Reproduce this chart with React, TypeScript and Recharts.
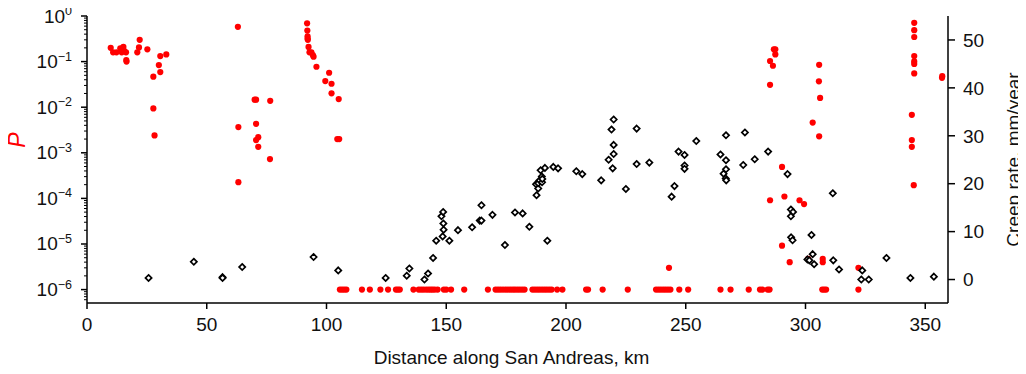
import React from "react";
import { ScatterChart, Scatter, XAxis, YAxis } from "recharts";

// Probability P (left, log axis) vs distance
const redKm = [
  9.9, 10.9, 12.3, 13.9, 14.5, 15.2, 15.6, 16.3, 16.4, 16.5, 21.0, 21.7, 22.0, 25.2, 27.7, 27.7, 28.2, 30.0, 30.6, 30.6, 33.1,
  63.0, 63.2, 63.2, 70.0, 70.6, 70.6, 70.6, 71.5, 71.5, 76.5, 76.4,
  91.9, 92.0, 92.1, 92.1, 92.2, 92.5, 92.9, 93.7, 94.3, 94.6, 95.8, 99.5, 101.1, 102.1, 102.1, 105.1, 104.5, 105.3,
  243.0, 285.2, 285.2, 286.4, 286.8, 287.4, 287.4, 285.2, 290.2, 291.2, 290.2, 293.4, 297.5, 299.4, 301.1,
  303.0, 305.7, 305.6, 306.1, 305.7, 307.2, 307.2, 322.1,
  344.4, 344.4, 344.4, 345.2, 345.4, 345.4, 345.4, 345.4, 345.4, 345.4, 345.4, 357.1, 357.0,
];
const redP = [
  0.2, 0.16, 0.16, 0.195, 0.16, 0.21, 0.17, 0.16, 0.108, 0.1, 0.16, 0.205, 0.3, 0.186, 0.0466, 0.0094, 0.0024, 0.084, 0.059, 0.132, 0.144,
  0.58, 0.00366, 0.000227, 0.0146, 0.0146, 0.00432, 0.0019, 0.0022, 0.00135, 0.0138, 0.00073,
  0.69, 0.48, 0.36, 0.32, 0.3, 0.21, 0.16, 0.16, 0.139, 0.128, 0.077, 0.0374, 0.057, 0.0327, 0.0201, 0.0151, 0.002, 0.002,
  3e-6, 0.103, 0.031, 0.081, 0.186, 0.186, 0.144, 9.1e-5, 4.9e-4, 1.1e-4, 9.2e-6, 4e-6, 9.1e-5, 7.5e-5, 4.7e-6,
  0.0046, 0.085, 0.037, 0.016, 0.0023, 4.7e-6, 4e-6, 3e-6,
  0.0068, 0.0019, 0.00135, 1.95e-4, 0.71, 0.49, 0.346, 0.132, 0.101, 0.089, 0.055, 0.048, 0.044,
];
// Points sitting at the P = 1e-6 floor
const floorKm = [
  105.6, 106.5, 107.4, 108.3, 114.8, 118.1, 122.5, 125.7, 129.0, 129.8, 130.6, 136.3, 138.5, 139.5, 140.5, 141.6,
  142.6, 143.5, 144.3, 145.2, 146.4, 149.0, 150.0, 152.0, 157.5, 167.4, 170.6, 171.6, 172.6, 173.7, 174.8, 175.8,
  176.8, 177.8, 178.7, 179.7, 180.7, 181.7, 182.7, 186.0, 187.0, 188.0, 189.0, 190.0, 191.0, 192.0, 193.0, 194.0,
  196.3, 198.5, 208.4, 209.2, 215.3, 225.8, 237.6, 238.6, 239.6, 240.6, 241.6, 242.6, 243.6, 247.3, 251.0, 264.5,
  268.7, 276.3, 281.0, 282.0, 284.2, 285.0, 307.0, 307.8, 308.6, 322.1,
];
const floorP = 1e-6;

// Creep rate (right axis), mm/year
const creepKm = [
  25.7, 44.6, 56.6, 56.6, 64.8, 94.6, 104.9, 124.7, 133.5, 134.6, 140.9, 142.4, 144.5, 145.8, 148.5, 148.9, 148.8, 148.0,
  148.7, 151.3, 154.9, 160.8, 164.0, 164.7, 164.7, 169.3, 174.5, 178.7, 181.9, 184.7, 187.7, 187.5, 188.4, 188.4, 189.0,
  190.0, 189.4, 189.9, 190.1, 191.2, 192.2, 194.7, 196.7, 204.3, 206.8, 214.7, 217.8, 219.0, 219.9, 219.9, 219.9, 219.5,
  225.0, 229.5, 229.5, 234.8, 244.1, 245.3, 247.0, 249.5, 249.5, 249.5, 254.4, 264.5, 265.8, 266.8, 266.8, 266.8, 266.7,
  266.9, 274.0, 274.7, 278.8, 284.4, 292.5, 293.9, 294.8, 293.9, 294.0, 294.6, 302.5, 303.0, 300.8, 301.6, 303.6, 311.4,
  311.6, 314.0, 323.7, 323.3, 326.4, 333.8, 343.8, 353.6,
];
const creepRate = [
  0.33, 3.7, 0.5, 0.33, 2.6, 4.7, 1.9, 0.33, 0.8, 2.3, 0.0, 1.25, 4.5, 8.1, 9.0, 10.4, 11.7, 13.2,
  14.1, 8.1, 10.3, 10.9, 12.3, 12.3, 15.5, 13.5, 7.2, 14.0, 13.8, 11.0, 17.6, 19.9, 19.0, 20.1, 20.7,
  20.3, 22.8, 21.5, 21.0, 23.3, 8.1, 23.5, 23.2, 22.6, 22.0, 20.7, 25.0, 31.3, 33.4, 28.1, 26.2, 23.2,
  18.9, 31.5, 24.1, 24.4, 17.3, 19.5, 26.7, 26.0, 23.8, 23.1, 28.9, 26.1, 22.1, 30.1, 24.9, 23.0, 21.1,
  20.7, 23.9, 30.7, 25.1, 26.7, 22.0, 14.6, 14.1, 13.2, 8.8, 8.2, 9.3, 5.3, 4.2, 4.0, 3.2, 18.0,
  4.0, 2.1, 1.9, 0.0, 0.0, 4.5, 0.33, 0.6,
];

const xTicks = [0, 50, 100, 150, 200, 250, 300, 350];
const creepTicks = [0, 10, 20, 30, 40, 50];
const decadeExps = [0, -1, -2, -3, -4, -5, -6];
const minorMultipliers = [2, 3, 4, 5, 6, 7, 8, 9];

const pLow = Math.pow(10, -6.294);
const pTicks: number[] = [];
decadeExps.forEach((e) => pTicks.push(Math.pow(10, e)));
[-1, -2, -3, -4, -5, -6, -7].forEach((e) =>
  minorMultipliers.forEach((m) => {
    const v = m * Math.pow(10, e);
    if (v >= pLow && v < 1) pTicks.push(v);
  })
);
pTicks.sort((a, b) => a - b);

const redData = [
  ...redKm.map((x, i) => ({ x, y: redP[i] })),
  ...floorKm.map((x) => ({ x, y: floorP })),
];
const creepData = creepKm.map((x, i) => ({ x, y: creepRate[i] }));

const FONT = "'Liberation Sans', Arial, Helvetica, sans-serif";
const TXT = "#111";

const LeftTick = (props: any) => {
  const { x, y, payload } = props;
  const v = payload.value;
  const e = Math.log10(v);
  const re = Math.round(e);
  const major = Math.abs(e - re) < 1e-6;
  if (!major) {
    return <line x1={x - 3} x2={x} y1={y} y2={y} stroke="#000" strokeWidth={1} />;
  }
  const sup = re === 0 ? "0" : "\u2212" + String(-re);
  return (
    <g>
      <line x1={x - 6} x2={x} y1={y} y2={y} stroke="#000" strokeWidth={1.5} />
      <text x={x - 15} y={y + 6.5} textAnchor="end" fontFamily={FONT} fontSize={19} fill={TXT}>
        <tspan>10</tspan>
        <tspan dy={-7.5} fontSize={12.5}>{sup}</tspan>
      </text>
    </g>
  );
};

const PLabel = (props: any) => {
  const vb = props.viewBox || { x: 8, y: 16, width: 79, height: 287 };
  const cx = vb.x + 9;
  const cy = vb.y + 124;
  return (
    <text
      x={cx}
      y={cy}
      transform={`rotate(-90, ${cx}, ${cy})`}
      textAnchor="middle"
      dominantBaseline="central"
      fontFamily={FONT}
      fontStyle="italic"
      fontSize={23}
      fill="#ff0000"
    >
      P
    </text>
  );
};

const CreepLabel = (props: any) => {
  const vb = props.viewBox || { x: 948, y: 16, width: 78, height: 287 };
  const cx = vb.x + 65;
  const cy = vb.y + vb.height / 2;
  return (
    <text
      x={cx}
      y={cy}
      transform={`rotate(-90, ${cx}, ${cy})`}
      textAnchor="middle"
      dominantBaseline="central"
      fontFamily={FONT}
      fontSize={19}
      fill={TXT}
    >
      Creep rate, mm/year
    </text>
  );
};

const XLabel = (props: any) => {
  const vb = props.viewBox || { x: 87, y: 303, width: 861, height: 71 };
  const cx = vb.x + vb.width / 2 - 6;
  return (
    <text x={cx} y={vb.y + 61} textAnchor="middle" fontFamily={FONT} fontSize={19} fill={TXT}>
      Distance along San Andreas, km
    </text>
  );
};

const RedDot = (props: any) => <circle cx={props.cx} cy={props.cy} r={3.1} fill="#ff0000" />;

const Diamond = (props: any) => {
  const { cx, cy } = props;
  const h = 3.1;
  return (
    <path
      d={`M${cx},${cy - h} L${cx + h},${cy} L${cx},${cy + h} L${cx - h},${cy} Z`}
      fill="#fff"
      stroke="#000"
      strokeWidth={1.7}
    />
  );
};

export default function App() {
  return (
    <div style={{ width: 1026, height: 374, marginLeft: -8, marginTop: -8 }}>
      <ScatterChart width={1026} height={374} margin={{ top: 16, right: 0, bottom: 0, left: 8 }}>
        <XAxis
          dataKey="x"
          type="number"
          domain={[0, 359.5]}
          ticks={xTicks}
          interval={0}
          height={71}
          tickSize={6}
          tickMargin={9}
          axisLine={{ stroke: "#000", strokeWidth: 1.5 }}
          tickLine={{ stroke: "#000", strokeWidth: 1.5 }}
          tick={{ fontFamily: FONT, fontSize: 19, fill: TXT }}
          allowDataOverflow
          label={<XLabel />}
        />
        <YAxis
          yAxisId="left"
          dataKey="y"
          type="number"
          scale="log"
          domain={[pLow, 1]}
          ticks={pTicks}
          interval={0}
          width={79}
          tickSize={0}
          tickMargin={0}
          tickLine={false}
          axisLine={{ stroke: "#000", strokeWidth: 1.5 }}
          tick={<LeftTick />}
          allowDataOverflow
          label={<PLabel />}
        />
        <YAxis
          yAxisId="right"
          orientation="right"
          dataKey="y"
          type="number"
          domain={[-4.9, 55]}
          ticks={creepTicks}
          interval={0}
          width={78}
          tickSize={7}
          tickMargin={8}
          axisLine={{ stroke: "#000", strokeWidth: 1.5 }}
          tickLine={{ stroke: "#000", strokeWidth: 1.5 }}
          tick={{ fontFamily: FONT, fontSize: 19, fill: TXT }}
          allowDataOverflow
          label={<CreepLabel />}
        />
        <Scatter yAxisId="left" data={redData} shape={<RedDot />} isAnimationActive={false} />
        <Scatter yAxisId="right" data={creepData} shape={<Diamond />} isAnimationActive={false} />
      </ScatterChart>
    </div>
  );
}
